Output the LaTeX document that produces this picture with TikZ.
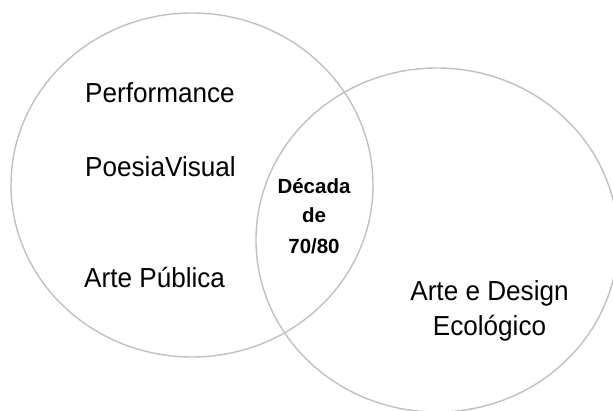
\documentclass[tikz,border=0pt]{standalone}
\usepackage{fontspec}
\setmainfont{Liberation Sans}
\newfontfamily\narrowsans[FakeStretch=0.95]{Liberation Sans}
\definecolor{ringgray}{RGB}{192,192,192}
\begin{document}
\begin{tikzpicture}[x=1pt,y=-1pt,
  ring/.style={draw=ringgray,line width=1.4pt},
  lbl/.style={inner sep=0pt,font=\narrowsans\fontsize{27.5}{30}\selectfont},
  mid/.style={inner sep=0pt,anchor=base,font=\bfseries\fontsize{20.5}{30}\selectfont}]
\useasboundingbox (0,0) rectangle (613,410);
\clip (0,0) rectangle (613,410);
\draw[ring] (192,185) ellipse [x radius=181, y radius=172];
\draw[ring] (437,240) ellipse [x radius=181, y radius=172];
\node[lbl,anchor=base west] (perf) at (85,102) {Performance};
\node[lbl,anchor=base west] (poes) at (85,176) {PoesiaVisual};
\node[lbl,anchor=base west] (pub) at (84,287) {Arte Pública};
\node[lbl,anchor=base] (des) at (489.5,300) {Arte e Design};
\node[lbl,anchor=base] (eco) at (489.5,335) {Ecológico};
\node[mid] (c1) at (314,193) {Década};
\node[mid] (c2) at (314,222) {de};
\node[mid] (c3) at (314,253) {70/80};
\end{tikzpicture}
\end{document}
